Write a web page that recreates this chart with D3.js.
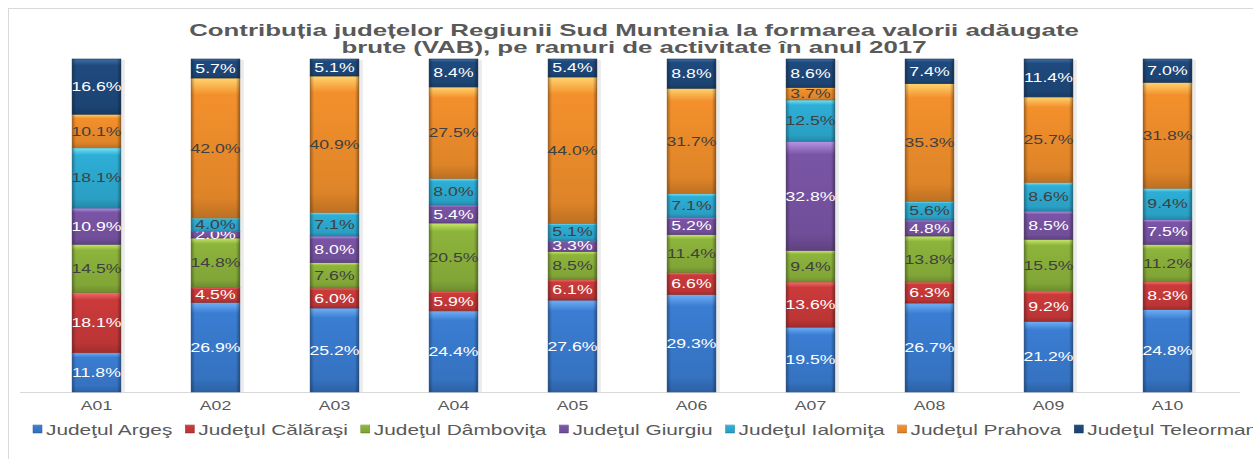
<!DOCTYPE html>
<html>
<head>
<meta charset="utf-8">
<script src="https://cdn.jsdelivr.net/npm/d3@7"></script>
<style>
  body { margin: 0; background: #fff; }
  text { font-family: "Liberation Sans", Arial, sans-serif; }
</style>
</head>
<body>
<svg id="chart"></svg>
<script>
const categories = ['A01', 'A02', 'A03', 'A04', 'A05', 'A06', 'A07', 'A08', 'A09', 'A10'];
const seriesNames = ['Judeţul Argeş', 'Judeţul Călăraşi', 'Judeţul Dâmboviţa', 'Judeţul Giurgiu',
  'Judeţul Ialomiţa', 'Judeţul Prahova', 'Judeţul Teleorman'];
const arges     = [11.8, 26.9, 25.2, 24.4, 27.6, 29.3, 19.5, 26.7, 21.2, 24.8];
const calarasi  = [18.1, 4.5, 6.0, 5.9, 6.1, 6.6, 13.6, 6.3, 9.2, 8.3];
const dambovita = [14.5, 14.8, 7.6, 20.5, 8.5, 11.4, 9.4, 13.8, 15.5, 11.2];
const giurgiu   = [10.9, 2.0, 8.0, 5.4, 3.3, 5.2, 32.8, 4.8, 8.5, 7.5];
const ialomita  = [18.1, 4.0, 7.1, 8.0, 5.1, 7.1, 12.5, 5.6, 8.6, 9.4];
const prahova   = [10.1, 42.0, 40.9, 27.5, 44.0, 31.7, 3.7, 35.3, 25.7, 31.8];
const teleorman = [16.6, 5.7, 5.1, 8.4, 5.4, 8.8, 8.6, 7.4, 11.4, 7.0];
const seriesValues = [arges, calarasi, dambovita, giurgiu, ialomita, prahova, teleorman];

const colors = ['#3a7dd2', '#cc3a3a', '#8db43c', '#7a55a6', '#2eaed6', '#f3902c', '#1f4a7e'];
const lightColors = ['#6fb0f5', '#f57070', '#c8e86a', '#b895e6', '#7ae4fa', '#ffd46e', '#3d6ea6'];
const labelColors = ['#fff', '#fff', '#404040', '#fff', '#404040', '#404040', '#fff'];

const W = 1253, H = 459;
const SX = 1.36; // horizontal stretch of the original picture
const svg = d3.select('#chart').attr('width', W).attr('height', H);

// chart frame
svg.append('rect')
  .attr('x', 8.5).attr('y', 8.5)
  .attr('width', 1260).attr('height', 470)
  .attr('fill', 'none').attr('stroke', '#d9d9d9');

const table = categories.map((c, i) => {
  const row = { cat: c };
  seriesNames.forEach((s, j) => { row[s] = seriesValues[j][i]; });
  return row;
});

const stack = d3.stack().keys(seriesNames).offset(d3.stackOffsetExpand);
const layers = stack(table);

const x = d3.scaleBand().domain(categories).range([37, 1227]).paddingInner(0.59).paddingOuter(0.295);
const y = d3.scaleLinear().domain([0, 1]).range([392, 59]);

// gradients
const defs = svg.append('defs');
seriesNames.forEach((s, j) => {
  const g = defs.append('linearGradient').attr('id', 'v' + j)
    .attr('x1', 0).attr('y1', 0).attr('x2', 0).attr('y2', 1);
  g.append('stop').attr('offset', 0).attr('stop-color', lightColors[j]);
  g.append('stop').attr('offset', 0.12).attr('stop-color', colors[j]);
  g.append('stop').attr('offset', 0.85).attr('stop-color', d3.color(colors[j]).darker(0.25));
  g.append('stop').attr('offset', 1).attr('stop-color', d3.color(colors[j]).darker(0.7));
});
const hg = defs.append('linearGradient').attr('id', 'edge')
  .attr('x1', 0).attr('y1', 0).attr('x2', 1).attr('y2', 0);
hg.append('stop').attr('offset', 0).attr('stop-color', '#000').attr('stop-opacity', 0.3);
hg.append('stop').attr('offset', 0.08).attr('stop-color', '#000').attr('stop-opacity', 0);
hg.append('stop').attr('offset', 0.92).attr('stop-color', '#000').attr('stop-opacity', 0);
hg.append('stop').attr('offset', 1).attr('stop-color', '#000').attr('stop-opacity', 0.35);

// bar shadows
svg.append('g').selectAll('rect').data(categories).join('rect')
  .attr('x', d => x(d) + 2).attr('y', y(1) + 1)
  .attr('width', x.bandwidth() + 2).attr('height', y(0) - y(1))
  .attr('fill', '#000').attr('opacity', 0.08);

// axis baseline
svg.append('line')
  .attr('x1', 20).attr('x2', 1240)
  .attr('y1', y(0) + 0.5).attr('y2', y(0) + 0.5)
  .attr('stroke', '#d9d9d9');

const layerG = svg.append('g').selectAll('g').data(layers).join('g');

layerG.selectAll('rect.seg')
  .data((L, j) => L.map(d => ({ d, j })))
  .join('rect')
  .attr('class', 'seg')
  .attr('x', p => x(p.d.data.cat))
  .attr('y', p => y(p.d[1]))
  .attr('width', x.bandwidth())
  .attr('height', p => y(p.d[0]) - y(p.d[1]))
  .attr('fill', p => `url(#v${p.j})`)
  .attr('stroke', p => d3.color(colors[p.j]).darker(0.8))
  .attr('stroke-width', 0.6);

layerG.selectAll('rect.edge')
  .data((L, j) => L.map(d => ({ d, j })))
  .join('rect')
  .attr('class', 'edge')
  .attr('x', p => x(p.d.data.cat))
  .attr('y', p => y(p.d[1]))
  .attr('width', x.bandwidth())
  .attr('height', p => y(p.d[0]) - y(p.d[1]))
  .attr('fill', 'url(#edge)');

layerG.selectAll('text')
  .data((L, j) => L.map(d => ({ d, j })))
  .join('text')
  .attr('transform', p => `translate(${x(p.d.data.cat) + x.bandwidth() / 2},${(y(p.d[0]) + y(p.d[1])) / 2 + 4.5}) scale(${SX},1)`)
  .attr('text-anchor', 'middle')
  .attr('font-size', 13)
  .attr('fill', p => labelColors[p.j])
  .text(p => seriesValues[p.j][categories.indexOf(p.d.data.cat)].toFixed(1) + '%');

// category labels
svg.append('g').selectAll('text').data(categories).join('text')
  .attr('transform', d => `translate(${x(d) + x.bandwidth() / 2},${410}) scale(${SX},1)`)
  .attr('text-anchor', 'middle')
  .attr('font-size', 13)
  .attr('fill', '#595959')
  .text(d => d);

// title
const title = ['Contribuția județelor Regiunii Sud Muntenia la formarea valorii adăugate',
  'brute (VAB), pe ramuri de activitate în anul 2017'];
svg.append('g').selectAll('text').data(title).join('text')
  .attr('transform', (d, i) => `translate(${634},${36 + i * 17}) scale(1.52,1)`)
  .attr('text-anchor', 'middle')
  .attr('font-size', 17)
  .attr('font-weight', 'bold')
  .attr('fill', '#595959')
  .text(d => d);

// legend: items laid out one after another, like Excel does
const LSX = 1.39;
const leg = svg.append('g').selectAll('g').data(seriesNames).join('g');
leg.append('rect')
  .attr('x', 0).attr('y', -5).attr('width', 9).attr('height', 8)
  .attr('fill', (d, i) => `url(#v${i})`)
  .attr('stroke', (d, i) => d3.color(colors[i]).darker(0.8)).attr('stroke-width', 0.5);
leg.append('text')
  .attr('transform', `translate(13,5) scale(${LSX},1)`)
  .attr('font-size', 15)
  .attr('fill', '#595959')
  .text(d => d);
let lx = 33;
leg.each(function () {
  const g = d3.select(this);
  g.attr('transform', `translate(${lx},430)`);
  lx += 13 + g.select('text').node().getComputedTextLength() * LSX + 13;
});
</script>
</body>
</html>
